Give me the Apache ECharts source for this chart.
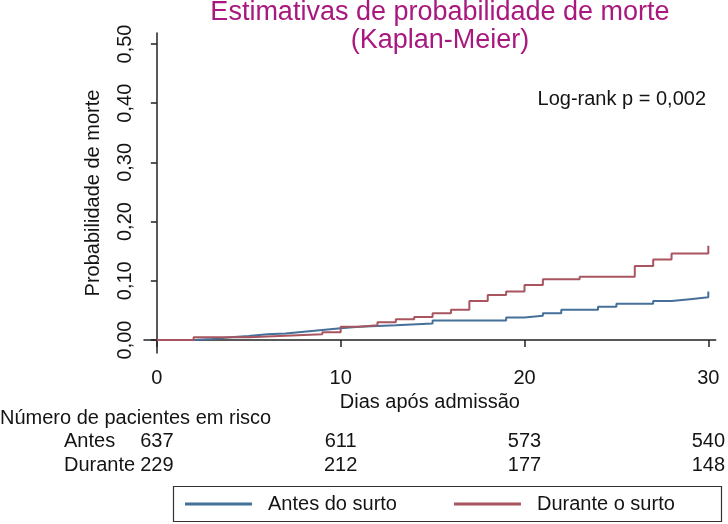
<!DOCTYPE html>
<html>
<head>
<meta charset="utf-8">
<script src="https://cdn.jsdelivr.net/npm/echarts@6/dist/echarts.min.js"></script>
<style>
html,body{margin:0;padding:0;background:#fff;}
#c{width:728px;height:524px;}
</style>
</head>
<body>
<div id="c"></div>
<script>
// ---- data ----
const seriesNames = ['Antes do surto', 'Durante o surto'];
const daysAntes = [0, 2, 3, 4, 5, 6, 7, 8, 9, 10, 11, 13, 15, 19, 20, 21, 22, 24, 25, 27, 28, 29, 30];
const probAntes = [0, 0.0015, 0.0045, 0.0068, 0.0095, 0.011, 0.014, 0.017, 0.020, 0.0225, 0.025, 0.028, 0.033, 0.038, 0.041, 0.045, 0.051, 0.056, 0.061, 0.066, 0.069, 0.072, 0.082];
const daysDurante = [0, 2, 5, 7, 9, 10, 11, 12, 13, 14, 15, 16, 17, 18, 19, 20, 21, 23, 26, 27, 28, 30];
const probDurante = [0, 0.0045, 0.007, 0.0096, 0.013, 0.0225, 0.025, 0.030, 0.035, 0.039, 0.045, 0.051, 0.066, 0.076, 0.082, 0.093, 0.1025, 0.107, 0.125, 0.136, 0.146, 0.159];
const xTicks = [0, 10, 20, 30];
const yTicks = [0, 0.1, 0.2, 0.3, 0.4, 0.5];
const riskAntes = [637, 611, 573, 540];
const riskDurante = [229, 212, 177, 148];
const riskRowLabels = ['Antes', 'Durante'];
const riskTitle = 'Número de pacientes em risco';
const titleText = 'Estimativas de probabilidade de morte\n(Kaplan-Meier)';
const logRankText = 'Log-rank p = 0,002';

const FONT = '"Liberation Sans", Arial, sans-serif';
const FS = 20;
const TXT = '#141414';
const BLUE = '#44709a';
const RED = '#a8555f';

const chart = echarts.init(document.getElementById('c'), null, {renderer: 'canvas'});

function pairs(xs, ys) { return xs.map((x, i) => [x, ys[i]]); }
function riskAxis(values, offset) {
  return {
    type: 'value', position: 'bottom', min: -0.7, max: 30.4, offset: offset,
    axisLine: {show: false}, axisTick: {show: false}, splitLine: {show: false},
    axisLabel: {
      customValues: xTicks, margin: 8, fontFamily: FONT, fontSize: FS, color: TXT,
      formatter: v => String(values[xTicks.indexOf(v)])
    }
  };
}

const option = {
  animation: false,
  backgroundColor: '#fff',
  title: {
    text: titleText, left: 435, top: -6, textAlign: 'center',
    textStyle: {fontFamily: FONT, fontSize: 27, lineHeight: 28, fontWeight: 'normal', color: '#a8187e'}
  },
  grid: {left: 144, right: 6, top: 33, bottom: 171, containLabel: false},
  xAxis: [{
    type: 'value', min: -0.7, max: 30.4,
    name: 'Dias após admissão', nameLocation: 'middle', nameGap: 38,
    nameTextStyle: {fontFamily: FONT, fontSize: FS, color: TXT},
    axisLine: {lineStyle: {color: '#222', width: 1.5}},
    axisTick: {customValues: xTicks, length: 7, lineStyle: {color: '#222', width: 1.5}},
    axisLabel: {customValues: xTicks, margin: 15, fontFamily: FONT, fontSize: FS, color: TXT},
    splitLine: {show: false}
  }, riskAxis(riskAntes, 70), riskAxis(riskDurante, 94)],
  yAxis: {
    type: 'value', min: -0.022, max: 0.5186,
    name: 'Probabilidade de morte', nameLocation: 'middle', nameGap: 41, nameRotate: 90,
    nameTextStyle: {fontFamily: FONT, fontSize: FS, color: TXT},
    axisLine: {lineStyle: {color: '#222', width: 1.5}},
    axisTick: {customValues: yTicks, length: 6, lineStyle: {color: '#222', width: 1.5}},
    axisLabel: {customValues: yTicks, rotate: 90, margin: 9, fontFamily: FONT, fontSize: FS, color: TXT,
      formatter: v => v.toFixed(2).replace('.', ',')},
    splitLine: {show: false}
  },
  legend: {
    data: seriesNames, left: 185, top: 494,
    padding: 0, itemGap: 57, itemWidth: 67, itemHeight: 3,
    icon: 'rect',
    textStyle: {fontFamily: FONT, fontSize: FS, color: TXT, padding: [0, 0, 0, 11]}
  },
  graphic: [
    {type: 'rect', shape: {x: 173.5, y: 486.5, width: 548, height: 35},
      style: {fill: 'none', stroke: '#333', lineWidth: 1.2}, silent: true},
    {type: 'text', left: 0, top: 408, style: {text: riskTitle, font: FS + 'px ' + FONT, fill: TXT}},
    {type: 'text', left: 64, top: 431, style: {text: riskRowLabels[0], font: FS + 'px ' + FONT, fill: TXT}},
    {type: 'text', left: 64, top: 455, style: {text: riskRowLabels[1], font: FS + 'px ' + FONT, fill: TXT}},
    {type: 'text', right: 22, top: 89, style: {text: logRankText, font: FS + 'px ' + FONT, fill: TXT}}
  ],
  series: [
    {name: seriesNames[0], type: 'line', step: 'end', showSymbol: false, symbol: 'none',
      data: pairs(daysAntes, probAntes), lineStyle: {color: BLUE, width: 2}, itemStyle: {color: BLUE}},
    {name: seriesNames[1], type: 'line', step: 'end', showSymbol: false, symbol: 'none',
      data: pairs(daysDurante, probDurante), lineStyle: {color: RED, width: 2}, itemStyle: {color: RED}}
  ]
};
chart.setOption(option);
</script>
</body>
</html>
